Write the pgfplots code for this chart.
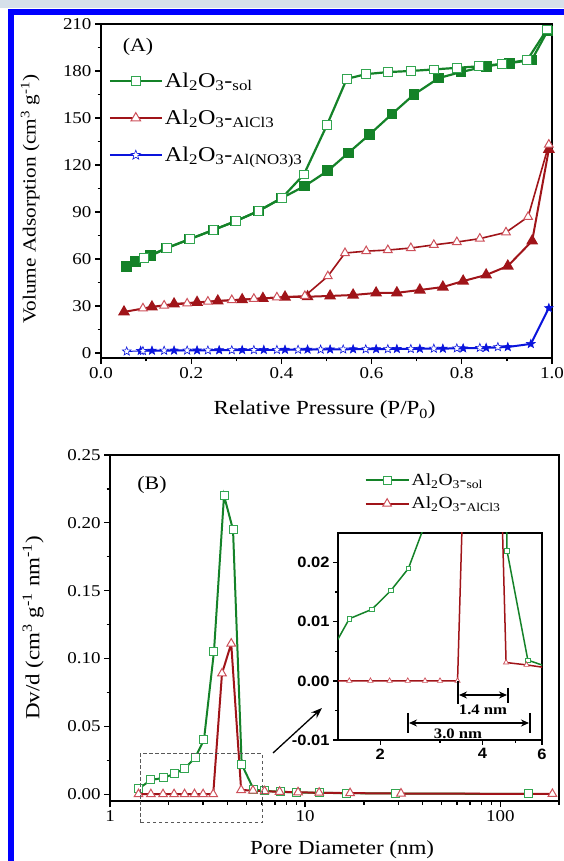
\documentclass[border=0pt]{standalone}
\usepackage{fontspec}
\setmainfont{Liberation Serif}[FakeStretch=1.15]
\newfontfamily\insetfont{Liberation Sans}[FakeStretch=1.1]
\usepackage{pgfplots}
\pgfplotsset{compat=1.18}
\usetikzlibrary{arrows.meta}

\definecolor{solgreen}{RGB}{20,130,40}
\definecolor{solopen}{RGB}{50,165,80}
\definecolor{alred}{RGB}{160,20,25}
\definecolor{alopen}{RGB}{205,80,90}
\definecolor{noblue}{RGB}{10,20,220}
\definecolor{frameblue}{RGB}{0,0,255}
\definecolor{strip}{RGB}{214,224,234}

% filled / open five-point star
\pgfdeclareplotmark{fstar}{%
  \pgfpathmoveto{\pgfpointpolar{90}{\pgfplotmarksize}}%
  \pgfpathlineto{\pgfpointpolar{126}{0.42\pgfplotmarksize}}%
  \pgfpathlineto{\pgfpointpolar{162}{\pgfplotmarksize}}%
  \pgfpathlineto{\pgfpointpolar{198}{0.42\pgfplotmarksize}}%
  \pgfpathlineto{\pgfpointpolar{234}{\pgfplotmarksize}}%
  \pgfpathlineto{\pgfpointpolar{270}{0.42\pgfplotmarksize}}%
  \pgfpathlineto{\pgfpointpolar{306}{\pgfplotmarksize}}%
  \pgfpathlineto{\pgfpointpolar{342}{0.42\pgfplotmarksize}}%
  \pgfpathlineto{\pgfpointpolar{18}{\pgfplotmarksize}}%
  \pgfpathlineto{\pgfpointpolar{54}{0.42\pgfplotmarksize}}%
  \pgfpathclose
  \pgfusepathqfillstroke
}

\pgfplotsset{
  chart/.style={
    scale only axis,
    axis line style={line width=1.6pt},
    tick align=outside, tick pos=left,
    major tick length=6pt, minor tick length=3.5pt,
    every tick/.style={line width=1.3pt, black},
    scaled ticks=false,
    /pgf/number format/assume math mode=true,
    tick label style={font=\rmfamily\fontsize{16.5}{18}\selectfont},
    label style={font=\rmfamily\fontsize{20}{22}\selectfont},
    legend cell align=left,
  },
}

\begin{document}
\begin{tikzpicture}[x=1pt,y=1pt]
\useasboundingbox (0,0) rectangle (564,861);
\fill[strip] (0,853) rectangle (564,861);
\draw[frameblue, line width=6pt] (11,0) -- (11,849) -- (564,849);

% ---------------- (A) isotherms
\begin{axis}[chart, at={(101pt,503pt)}, anchor=south west,
  width=451pt, height=334pt,
  xmin=0, xmax=1, ymin=-3.2, ymax=210,
  xtick={0,0.2,0.4,0.6,0.8,1}, minor xtick={0.1,0.3,0.5,0.7,0.9},
  ytick={0,30,60,90,120,150,180,210}, minor ytick={15,45,75,105,135,165,195},
  xticklabel style={/pgf/number format/.cd, fixed, fixed zerofill, precision=1},
  xlabel={Relative Pressure (P/P\textsubscript{0})},
  ylabel={Volume Adsorption (cm\textsuperscript{3} g\textsuperscript{-1})},
  xlabel style={at={(axis description cs:0.496,-0.156)}, anchor=center},
  ylabel style={at={(axis description cs:-0.157,0.475)}, anchor=center, font=\rmfamily\fontsize{18.5}{20}\selectfont},
  legend image code/.code={\draw[mark repeat=2,mark phase=2] plot coordinates {(0pt,0pt) (26pt,0pt) (52pt,0pt)};},
  legend style={at={(axis description cs:0.01,0.866)}, anchor=north west, draw=none, fill=none,
    font=\rmfamily\fontsize{21}{23}\selectfont, row sep=17pt},
]
\addplot[solgreen, line width=2.2pt, mark=square*, mark size=4.3pt, mark options={fill=solgreen}, forget plot] coordinates {
 (0.057,55) (0.077,58.5) (0.110,62) (0.146,67) (0.197,72.7) (0.249,78.5) (0.299,84.2)
 (0.349,90.6) (0.401,98.9) (0.452,106.6) (0.503,116.3) (0.548,127.6) (0.596,139.6)
 (0.645,152.5) (0.694,165) (0.749,175.5) (0.798,179.3) (0.854,183) (0.905,185)
 (0.955,187) (0.990,205.5)
};
\addplot[solgreen, line width=2.2pt, mark=square*, mark size=4.3pt, mark options={fill=white, draw=solopen, line width=1pt}, forget plot] coordinates {
 (0.989,206.5) (0.945,187) (0.889,184.5) (0.838,183) (0.789,182) (0.738,181) (0.687,180)
 (0.636,179.3) (0.588,178) (0.545,175) (0.501,145.5) (0.450,114) (0.401,98.9) (0.349,90.6)
 (0.299,84.2) (0.249,78.5) (0.197,72.7) (0.146,67) (0.095,60.6)
};
\addplot[alred, line width=2pt, mark=triangle*, mark size=5pt, mark options={fill=alred}, forget plot] coordinates {
 (0.051,26.2) (0.113,29.4) (0.162,31.3) (0.213,32.3) (0.259,33.2) (0.313,34) (0.359,34.8)
 (0.408,35.7) (0.458,35.9) (0.508,36.4) (0.559,37) (0.610,38.3) (0.656,38.4) (0.707,40.2)
 (0.758,42.1) (0.803,45.9) (0.854,49.8) (0.902,55.5) (0.956,71.5) (0.993,130)
};
\addplot[alred, line width=1.6pt, mark=triangle*, mark size=5pt, mark options={fill=white, draw=alopen, line width=1pt}, forget plot] coordinates {
 (0.993,133) (0.947,86.9) (0.898,77) (0.840,73) (0.789,70.8) (0.738,69) (0.687,67)
 (0.636,65.7) (0.588,65) (0.541,63.8) (0.503,49) (0.452,36.4) (0.390,35.5) (0.339,34.6)
 (0.290,33.8) (0.237,32.8) (0.191,31.6) (0.140,30.3) (0.093,28.5)
};
\addplot[noblue, line width=2pt, mark=fstar, mark size=4.5pt, mark options={fill=noblue, line width=0.6pt}, forget plot] coordinates {
 (0.088,1.4) (0.113,1.5) (0.162,1.6) (0.213,1.7) (0.262,1.8) (0.313,1.9) (0.361,2.0)
 (0.408,2.1) (0.458,2.2) (0.508,2.3) (0.559,2.4) (0.610,2.5) (0.656,2.6) (0.707,2.7)
 (0.758,2.8) (0.803,3.0) (0.854,3.3) (0.902,3.8) (0.953,5.8) (0.993,28.7)
};
\addplot[noblue, line width=1pt, mark=fstar, mark size=4.5pt, mark options={fill=white, line width=0.6pt}, forget plot] coordinates {
 (0.057,1.0) (0.093,1.3) (0.140,1.5) (0.191,1.6) (0.237,1.7) (0.290,1.8) (0.339,1.9)
 (0.390,2.0) (0.437,2.1) (0.487,2.2) (0.537,2.3) (0.587,2.4) (0.636,2.5) (0.687,2.6)
 (0.738,2.8) (0.789,3.0) (0.840,3.3) (0.880,3.8)
};
\addlegendimage{solgreen, line width=2.2pt, mark=square*, mark size=4.3pt, mark options={fill=white, draw=solopen, line width=1pt}}
\addlegendentry{Al\textsubscript{2}O\textsubscript{3}-\textsubscript{sol}}
\addlegendimage{alred, line width=2pt, mark=triangle*, mark size=5.5pt, mark options={fill=white, draw=alopen, line width=1pt}}
\addlegendentry{Al\textsubscript{2}O\textsubscript{3}-\textsubscript{AlCl3}}
\addlegendimage{noblue, line width=1.6pt, mark=fstar, mark size=5pt, mark options={fill=white, line width=0.6pt}}
\addlegendentry{Al\textsubscript{2}O\textsubscript{3}-\textsubscript{Al(NO3)3}}
\end{axis}

% ---------------- (B) pore size distribution
\begin{axis}[chart, at={(110pt,60pt)}, anchor=south west,
  width=449pt, height=346pt,
  xmode=log, xmin=1, xmax=200, ymin=-0.005, ymax=0.25,
  xtick={1,10,100}, xticklabels={1,10,100},
  minor xtick={2,3,4,5,6,7,8,9,20,30,40,50,60,70,80,90,200},
  ytick={0,0.05,0.1,0.15,0.2,0.25}, minor ytick={0.025,0.075,0.125,0.175,0.225},
  yticklabel style={/pgf/number format/.cd, fixed, fixed zerofill, precision=2},
  xlabel={Pore Diameter (nm)},
  ylabel={Dv/d (cm\textsuperscript{3} g\textsuperscript{-1} nm\textsuperscript{-1})},
  xlabel style={at={(axis description cs:0.517,-0.142)}, anchor=center},
  ylabel style={at={(axis description cs:-0.171,0.5)}, anchor=center},
  legend image code/.code={\draw[mark repeat=2,mark phase=2] plot coordinates {(0pt,0pt) (21.5pt,0pt) (43pt,0pt)};},
  legend style={at={(axis description cs:0.56,0.958)}, anchor=north west, draw=none, fill=none,
    font=\rmfamily\fontsize{17}{19}\selectfont, row sep=6pt},
]
\addplot[solgreen, line width=2pt, mark=square*, mark size=4pt, mark options={fill=white, draw=solopen, line width=1pt}] coordinates {
 (1.40,0.004) (1.62,0.0105) (1.89,0.0121) (2.15,0.0153) (2.42,0.019) (2.73,0.027)
 (3.03,0.040) (3.41,0.105) (3.84,0.220) (4.27,0.195) (4.73,0.022) (5.45,0.0035)
 (6.2,0.0024) (7.5,0.0018) (9.0,0.0013) (11.8,0.0010) (16.2,0.0008) (29,0.0005) (140,0.0002)
};
\addlegendentry{Al\textsubscript{2}O\textsubscript{3}-\textsubscript{sol}}
\addplot[alred, line width=2pt, mark=triangle*, mark size=5pt, mark options={fill=white, draw=alopen, line width=1pt}] coordinates {
 (1.40,0) (1.62,0) (1.87,0) (2.13,0) (2.41,0) (2.71,0) (3.00,0) (3.38,0) (3.75,0.089)
 (4.18,0.111) (4.70,0.0031) (5.40,0.0027) (6.2,0.0022) (7.4,0.0018) (9.2,0.0014)
 (11.8,0.0011) (17,0.0008) (31,0.0005) (185,0.0002)
};
\addlegendentry{Al\textsubscript{2}O\textsubscript{3}-\textsubscript{AlCl3}}
\end{axis}

% ---------------- inset
\begin{axis}[chart, at={(338pt,121pt)}, anchor=south west,
  width=204pt, height=207pt,
  axis background/.style={fill=white},
  xmode=log, xmin=1.5, xmax=6, ymin=-0.01, ymax=0.025,
  xtick={2,4,6}, xticklabels={2,4,6}, minor xtick={3,5},
  ytick={-0.01,0,0.01,0.02}, yticklabels={-0.01,0.00,0.01,0.02},
  minor ytick={-0.005,0.005,0.015},
  major tick length=5pt, minor tick length=3pt,
  tick label style={font=\insetfont\bfseries\fontsize{15}{16}\selectfont},
]
\addplot[solgreen, line width=1.5pt, mark=square*, mark size=2.3pt, mark options={fill=white, draw=solopen, line width=0.7pt}] coordinates {
 (1.40,0.004) (1.62,0.0105) (1.89,0.0121) (2.15,0.0153) (2.42,0.019) (2.73,0.027)
 (3.03,0.040) (3.41,0.105) (3.84,0.220) (4.27,0.195) (4.73,0.022) (5.45,0.0035)
 (6.2,0.0024)
};
\addplot[alred, line width=1.5pt, mark=triangle*, mark size=3pt, mark options={fill=white, draw=alopen, line width=0.7pt}] coordinates {
 (1.40,0) (1.62,0) (1.87,0) (2.13,0) (2.41,0) (2.71,0) (3.00,0) (3.38,0) (3.75,0.089)
 (4.18,0.111) (4.70,0.0031) (5.40,0.0027) (6.2,0.0022)
};
\end{axis}

% ---------------- annotations
\node[font=\fontsize{19}{21}\selectfont] at (138,814) {(A)};
\node[font=\fontsize{19}{21}\selectfont] at (152,376) {(B)};
\draw[black!65, line width=1pt, dash pattern=on 3.5pt off 2.5pt] (140,38) rectangle (262,107);
\draw[-{Stealth[length=11pt,width=8pt]}, line width=1.3pt] (273,108) -- (322,153);
\draw[{Stealth[length=8pt,width=7pt]}-{Stealth[length=8pt,width=7pt]}, line width=1.5pt] (459,166) -- (507,166);
\draw[line width=1.3pt] (458,180) -- (458,157) (508,173) -- (508,158);
\node[font=\bfseries\fontsize{14.5}{16}\selectfont] at (483,151) {1.4 nm};
\draw[{Stealth[length=8pt,width=7pt]}-{Stealth[length=8pt,width=7pt]}, line width=1.5pt] (409,138) -- (529,138);
\draw[line width=1.3pt] (408,148) -- (408,128) (530,148) -- (530,128);
\node[font=\bfseries\fontsize{14.5}{16}\selectfont] at (458,127) {3.0 nm};
\end{tikzpicture}
\end{document}
